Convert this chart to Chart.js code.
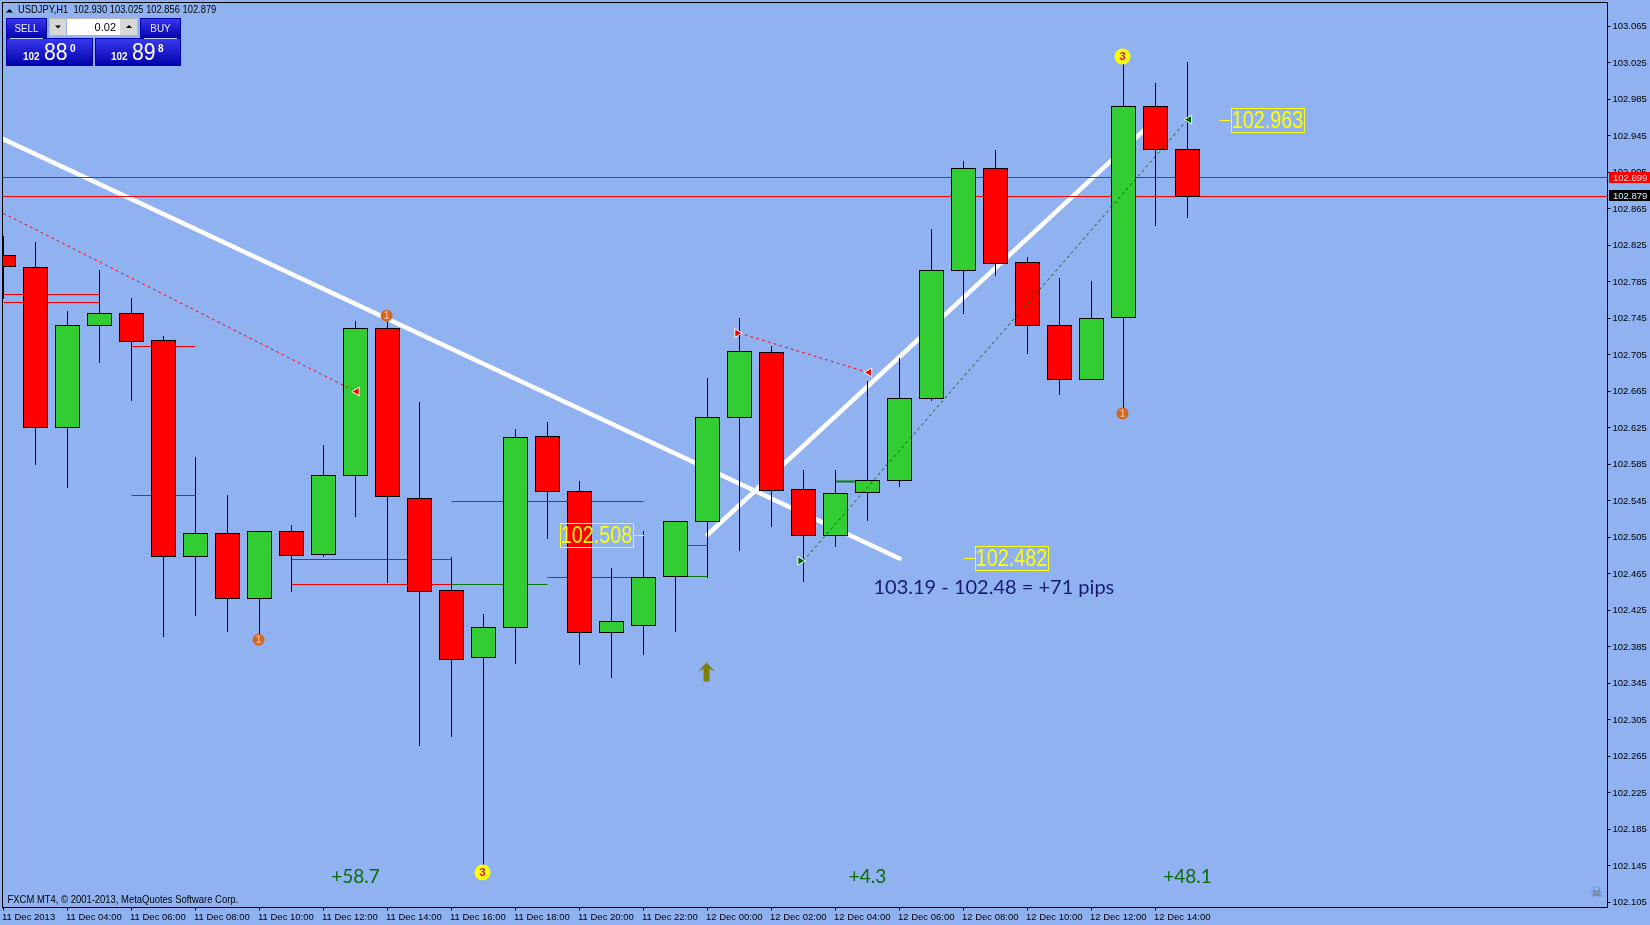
<!DOCTYPE html>
<html><head><meta charset="utf-8">
<script src="https://cdn.jsdelivr.net/npm/chart.js@4"></script>
<style>html,body{margin:0;padding:0;background:#90B2F0;overflow:hidden}canvas{display:block}</style>
</head><body>
<canvas id="c" width="1650" height="925"></canvas>
<script>
const opens  = [102.814,102.801,102.625,102.737,102.750,102.721,102.484,102.509,102.438,102.512,102.486,102.573,102.734,102.548,102.447,102.373,102.406,102.616,102.555,102.401,102.409,102.462,102.522,102.637,102.708,102.558,102.507,102.554,102.567,102.657,102.798,102.909,102.806,102.737,102.678,102.746,102.977,102.930];
const closes = [102.802,102.625,102.737,102.751,102.720,102.484,102.509,102.438,102.512,102.485,102.573,102.734,102.550,102.446,102.371,102.406,102.615,102.555,102.401,102.413,102.461,102.522,102.637,102.709,102.556,102.507,102.553,102.567,102.657,102.798,102.909,102.805,102.737,102.678,102.745,102.977,102.930,102.879];
const highs  = [102.835,102.828,102.753,102.798,102.767,102.725,102.593,102.551,102.512,102.518,102.606,102.742,102.747,102.653,102.483,102.421,102.623,102.631,102.566,102.471,102.512,102.522,102.679,102.745,102.714,102.578,102.578,102.676,102.701,102.843,102.917,102.929,102.812,102.789,102.785,103.028,103.003,103.025];
const lows   = [102.767,102.585,102.560,102.697,102.655,102.396,102.419,102.402,102.392,102.446,102.484,102.528,102.456,102.277,102.287,102.142,102.367,102.504,102.366,102.352,102.377,102.402,102.461,102.491,102.517,102.457,102.495,102.524,102.561,102.655,102.751,102.792,102.707,102.662,102.678,102.643,102.847,102.856];
const priceTicks = [103.065,103.025,102.985,102.945,102.905,102.865,102.825,102.785,102.745,102.705,102.665,102.625,102.585,102.545,102.505,102.465,102.425,102.385,102.345,102.305,102.265,102.225,102.185,102.145,102.105];
const timeLabels = ['11 Dec 2013','11 Dec 04:00','11 Dec 06:00','11 Dec 08:00','11 Dec 10:00','11 Dec 12:00','11 Dec 14:00','11 Dec 16:00','11 Dec 18:00','11 Dec 20:00','11 Dec 22:00','12 Dec 00:00','12 Dec 02:00','12 Dec 04:00','12 Dec 06:00','12 Dec 08:00','12 Dec 10:00','12 Dec 12:00','12 Dec 14:00'];
const bidPrice = 102.879, askPrice = 102.899;
// [from bar, to bar, price]
const redLevels   = [[0,3,102.771],[0,3,102.762],[4,6,102.714],[4,6,102.551],[9,14,102.481],[9,14,102.454],[17,20,102.544],[17,20,102.461]];
const greenLevels = [[14,17,102.454],[14,17,102.544],[21,22,102.496],[21,22,102.462]];
const thickLevels = [[26,27,102.566]];
// [bar, price, bar, price]
const whiteTrends = [[-1,102.958,28,102.482],[22,102.508,36,102.963]];
const redTrades   = [[-1,102.878,11,102.665],[23,102.729,27,102.686]];
const greenTrades = [[25,102.4795,37,102.963]];
const priceLabels = [[20,102.508],[30,102.482],[38,102.963]];
const profitLabels = [[11,'+58.7'],[27,'+4.3'],[37,'+48.1']];
const yellowDots = [[34.97,103.032],[14.97,102.138]];
const orangeDots = [[11.97,102.748],[7.97,102.393],[34.97,102.641]];
const upArrow = [22,102.357];
const headline = 'USDJPY,H1  102.930 103.025 102.856 102.879';
const footer = 'FXCM MT4, © 2001-2013, MetaQuotes Software Corp.';
const note = '103.19 - 102.48 = +71 pips';

const UP='#32CD32', DOWN='#FF0000', SANS='"Liberation Sans"';
const bars = opens.map((_,i)=>i);
const seg = (a,color,extra)=>a.map(([f,t,p])=>Object.assign({type:'line',data:[{x:f,y:p},{x:t,y:p}],borderColor:color,borderWidth:1,pointRadius:0,order:50,snap:true},extra||{}));
const trend = (a,color,w,dash,ord)=>a.map(([x1,y1,x2,y2])=>({type:'line',data:[{x:x1,y:y1},{x:x2,y:y2}],borderColor:color,borderWidth:w,borderDash:dash,pointRadius:0,order:ord,borderCapStyle:'round'}));
const tri = (pts,color,rot)=>({type:'line',showLine:false,data:pts,pointStyle:'triangle',pointRadius:5,pointRotation:rot,pointBackgroundColor:color,pointBorderColor:'#fff',pointBorderWidth:1,order:5});

const datasets = [
  ...trend(whiteTrends,'#fff',4.5,[],60),
  {type:'line',data:[{x:-1,y:bidPrice},{x:51,y:bidPrice}],borderColor:'#f00',borderWidth:1,pointRadius:0,order:50,snap:true},
  {type:'line',data:[{x:-1,y:askPrice},{x:51,y:askPrice}],borderColor:'#f00',borderWidth:1,pointRadius:0,order:50,snap:true},
  ...seg(redLevels,'#F00000'),
  ...seg(greenLevels,'#0A7A0A'),
  ...seg(thickLevels,'#0A7A0A',{borderWidth:2}),
  {type:'bar',data:bars.map(i=>({x:i,y:[lows[i],highs[i]]})),backgroundColor:'#000',borderWidth:0,inflateAmount:0,barThickness:1,grouped:false,order:40},
  {type:'bar',data:bars.map(i=>({x:i,y:[Math.min(opens[i],closes[i]),Math.max(opens[i],closes[i])]})),
    backgroundColor:bars.map(i=>closes[i]>=opens[i]?UP:DOWN),borderColor:'#000',borderWidth:1,borderSkipped:false,inflateAmount:0,barThickness:25,grouped:false,order:30},
  ...trend(redTrades,'#f00',1,[2,4],20),
  ...trend(greenTrades,'#006400',1,[2,4],20),
  tri([{x:11.04,y:102.665},{x:27.05,y:102.686}],'#f00',-90),
  tri([{x:22.93,y:102.729}],'#f00',90),
  tri([{x:37.05,y:102.963}],'#006400',-90),
  tri([{x:24.9,y:102.4795}],'#006400',90),
  {type:'line',showLine:false,data:yellowDots.map(([x,y])=>({x,y})),pointRadius:8,pointBackgroundColor:'#FFFF00',pointBorderWidth:0,order:4},
  {type:'line',showLine:false,data:orangeDots.map(([x,y])=>({x,y})),pointRadius:6,pointBackgroundColor:'#D2691E',pointBorderWidth:0,order:4}
];

function text(ctx,s,x,y,font,color,align,sx){
  ctx.font=font;ctx.fillStyle=color;ctx.textAlign=align||'left';ctx.textBaseline='middle';
  if(sx){ctx.save();ctx.translate(x,y);ctx.scale(sx,1);ctx.fillText(s,0,0);ctx.restore();}
  else ctx.fillText(s,x,y);
}
function button(ctx,x,y,w,h){const g=ctx.createLinearGradient(0,y,0,y+h);g.addColorStop(0,'#3A3AF0');g.addColorStop(1,'#0000A8');ctx.fillStyle=g;ctx.fillRect(x,y,w,h);ctx.strokeStyle='#0000B0';ctx.lineWidth=1;ctx.strokeRect(x+.5,y+.5,w-1,h-1);}

const overlay = {
  id:'overlay',
  afterDatasetsUpdate(chart){
    chart.data.datasets.forEach((d,k)=>{
      const m=chart.getDatasetMeta(k);
      if(d.type==='bar') m.data.forEach(e=>{e.y=Math.floor(e.y);e.base=Math.ceil(e.base);});
      if(d.snap) m.data.forEach(e=>{e.y=Math.floor(e.y)+.5;});
    });
  },
  afterDraw(chart){
    const c=chart.ctx,X=chart.scales.x,Y=chart.scales.y,a=chart.chartArea;
    c.save();
    c.strokeStyle='#000';c.lineWidth=1;c.strokeRect(a.left,a.top,a.right-a.left,a.bottom-a.top);
    yellowDots.forEach(([x,y])=>text(c,'3',X.getPixelForValue(x),Y.getPixelForValue(y)+.5,'bold 11px '+SANS,'#D0105A','center'));
    orangeDots.forEach(([x,y])=>text(c,'1',X.getPixelForValue(x),Y.getPixelForValue(y)+.5,'bold 10px '+SANS,'#F0B090','center'));
    priceLabels.forEach(([x,p])=>{
      const px=X.getPixelForValue(x),py=Math.round(Y.getPixelForValue(p))+.5;
      const left=x===20?px-84:px+11, right=left+74;
      c.strokeStyle='#FFFF00';c.lineWidth=1;
      c.strokeRect(Math.round(left)+.5,py-12,73,24);
      c.beginPath();
      if(x===20){c.moveTo(right,py);c.lineTo(px+.5,py);}else{c.moveTo(px,py);c.lineTo(left,py);}
      c.stroke();
      text(c,p.toFixed(3),left+37,py+1.5,'23px '+SANS,'#FFFF00','center',0.86);
    });
    profitLabels.forEach(([x,s])=>text(c,s,X.getPixelForValue(x),877,'19px Lato','#0B6B0B','center'));
    text(c,note,873.5,587.5,'20px Lato','#191970');
    const ax=X.getPixelForValue(upArrow[0])-1,ay=Y.getPixelForValue(upArrow[1]);
    c.fillStyle='#808000';c.beginPath();
    c.moveTo(ax,ay-10);c.lineTo(ax+8.5,ay-1);c.lineTo(ax+3,ay-3.5);c.lineTo(ax+3,ay+9);c.lineTo(ax-3,ay+9);c.lineTo(ax-3,ay-3.5);c.lineTo(ax-8.5,ay-1);c.closePath();c.fill();
    text(c,'☠',1596.5,893,'14px "DejaVu Sans"','#666666','center');
    text(c,footer,7.5,900,'10.5px '+SANS,'#000','left',0.9);
    c.fillStyle='#000';c.beginPath();c.moveTo(9.5,9);c.lineTo(13,12.5);c.lineTo(6,12.5);c.closePath();c.fill();
    text(c,headline,18,10.5,'10.5px '+SANS,'#000','left',0.89);
    button(c,6,18,41,21);button(c,140,18,41,21);button(c,6,38,87,28);button(c,95,38,86,28);
    c.strokeStyle='#C8D0FF';c.beginPath();c.moveTo(10,38.5);c.lineTo(43,38.5);c.moveTo(144,38.5);c.lineTo(177,38.5);c.stroke();
    text(c,'SELL',26.5,28.5,'11px '+SANS,'#E8ECFF','center',0.9);
    text(c,'BUY',160.5,28.5,'11px '+SANS,'#E8ECFF','center',0.9);
    c.fillStyle='#D8D8D8';c.fillRect(49,18,17,18);c.fillRect(120,18,18,18);
    c.fillStyle='#fff';c.fillRect(67,18,53,18);
    c.strokeStyle='#B8B8B8';c.strokeRect(49.5,18.5,88,17);
    c.fillStyle='#000';
    c.beginPath();c.moveTo(55,25.5);c.lineTo(61,25.5);c.lineTo(58,28.5);c.closePath();c.fill();
    c.beginPath();c.moveTo(126,28);c.lineTo(132,28);c.lineTo(129,25);c.closePath();c.fill();
    text(c,'0.02',116,28,'11px '+SANS,'#000','right');
    [[23,'88','0'],[111,'89','8']].forEach(([x,big,small])=>{
      text(c,'102',x,57,'bold 10px '+SANS,'#fff');
      text(c,big,x+21,54,'23px '+SANS,'#fff','left',0.92);
      text(c,small,x+47,49.5,'bold 10px '+SANS,'#fff');
    });
    c.fillStyle='#FF0000';c.fillRect(1609,172,41,11);
    c.fillStyle='#000';c.fillRect(1609,190,41,11);
    text(c,askPrice.toFixed(3),1613,178,'9.5px '+SANS,'#FFD0D8');
    text(c,bidPrice.toFixed(3),1613,196,'9.5px '+SANS,'#D8E8FF');
    c.restore();
  }
};

new Chart(document.getElementById('c'),{
  type:'bar',
  data:{datasets},
  options:{
    responsive:false,animation:false,events:[],
    layout:{autoPadding:false,padding:{left:2.5,top:2.5,right:0,bottom:0}},
    plugins:{legend:{display:false},tooltip:{enabled:false}},
    scales:{
      x:{type:'linear',position:'bottom',offset:false,min:-0.03125,max:50.125,
        grid:{offset:false,drawOnChartArea:false,color:'#000',tickLength:3,tickWidth:1},border:{color:'#000'},
        afterBuildTicks(s){s.ticks=timeLabels.map((_,k)=>({value:k*2}));},
        afterFit(s){s.height=17.5;s.paddingLeft=0;s.paddingRight=0;},
        ticks:{autoSkip:false,maxRotation:0,align:'start',padding:1,labelOffset:-1.5,color:'#000',font:{family:'Liberation Sans',size:9.5},callback:v=>timeLabels[v/2]}},
      y:{type:'linear',position:'right',min:102.09952,max:103.0913,
        grid:{drawOnChartArea:false,color:'#000',tickLength:3,tickWidth:1},border:{color:'#000'},
        afterBuildTicks(s){s.ticks=priceTicks.map(v=>({value:v}));},
        afterFit(s){s.width=42.5;s.paddingTop=0;s.paddingBottom=0;},
        ticks:{autoSkip:false,padding:2,color:'#000',font:{family:'Liberation Sans',size:9.5},callback:v=>v.toFixed(3)}}
    }
  },
  plugins:[overlay]
});
</script>
</body></html>
